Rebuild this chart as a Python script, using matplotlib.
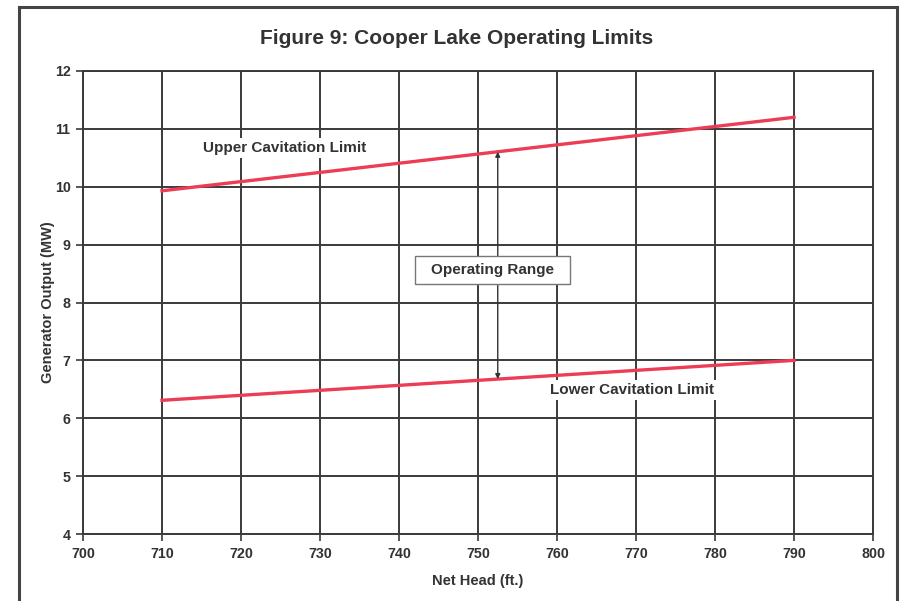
import matplotlib
matplotlib.use("Agg")
import matplotlib.pyplot as plt
from matplotlib.patches import Rectangle
from matplotlib import font_manager

fams = {f.name for f in font_manager.fontManager.ttflist}
fam = [f for f in ["Liberation Sans Narrow", "Liberation Sans", "DejaVu Sans"] if f in fams]
plt.rcParams['font.family'] = fam

net_head = [710, 790]
upper_limit = [9.93, 11.2]
lower_limit = [6.31, 7.0]
x_ticks = [700, 710, 720, 730, 740, 750, 760, 770, 780, 790, 800]
y_ticks = [4, 5, 6, 7, 8, 9, 10, 11, 12]
arrow_x = 752.5

fig = plt.figure(figsize=(9.02, 6.01), dpi=100)
ax = fig.add_axes([83/902, 1-534/601, (873-83)/902, (534-71)/601])

red = '#ec3d57'
grid_c = '#3a3a3a'
txt_c = '#333333'
ax.plot(net_head, upper_limit, color=red, lw=2.4, zorder=3)
ax.plot(net_head, lower_limit, color=red, lw=2.4, zorder=3)

ax.set_xlim(700, 800)
ax.set_ylim(4, 12)
ax.set_xticks(x_ticks)
ax.set_yticks(y_ticks)
ax.grid(True, color=grid_c, lw=1.4)
ax.set_axisbelow(True)
for s in ax.spines.values():
    s.set_color(grid_c)
    s.set_linewidth(1.4)
ax.tick_params(colors=grid_c, width=1.2, length=5, labelsize=10.3, pad=4)
for lab in ax.get_xticklabels() + ax.get_yticklabels():
    lab.set_fontweight('bold')
    lab.set_color(txt_c)

ax.set_xlabel('Net Head (ft.)', fontsize=10.5, fontweight='bold', color=txt_c, labelpad=10)
ax.set_ylabel('Generator Output (MW)', fontsize=10.5, fontweight='bold', color=txt_c, labelpad=0)

fig.text(457/902, 1-38/601, 'Figure 9: Cooper Lake Operating Limits', ha='center', va='center',
         fontsize=15, fontweight='bold', color=txt_c)

# arrow between limits
up_y = upper_limit[0] + (arrow_x - net_head[0]) / (net_head[1] - net_head[0]) * (upper_limit[1] - upper_limit[0])
lo_y = lower_limit[0] + (arrow_x - net_head[0]) / (net_head[1] - net_head[0]) * (lower_limit[1] - lower_limit[0])
ax.annotate('', xy=(arrow_x, up_y), xytext=(arrow_x, lo_y),
            arrowprops=dict(arrowstyle='<|-|>', color=txt_c, lw=1.0, mutation_scale=7,
                            shrinkA=0, shrinkB=0), zorder=4)

# Operating Range box
ax.add_patch(Rectangle((742.0, 8.32), 19.6, 0.48, fc='white', ec='#777777', lw=1.0, zorder=5))
ax.text(751.8, 8.56, 'Operating Range', ha='center', va='center', fontsize=11,
        fontweight='bold', color=txt_c, zorder=6)

ax.text(725.5, 10.67, 'Upper Cavitation Limit', ha='center', va='center', fontsize=11,
        fontweight='bold', color=txt_c, zorder=5,
        bbox=dict(boxstyle='square,pad=0.2', fc='white', ec='none'))
ax.text(769.5, 6.49, 'Lower Cavitation Limit', ha='center', va='center', fontsize=11,
        fontweight='bold', color=txt_c, zorder=5,
        bbox=dict(boxstyle='square,pad=0.2', fc='white', ec='none'))

# outer frame
fig.patches.append(Rectangle((19/902, -0.02), (897-19)/902, 1.02 - 7/601, transform=fig.transFigure,
                             fill=False, ec='#444444', lw=2.2))

fig.savefig('out.png', dpi=100, facecolor='white')
